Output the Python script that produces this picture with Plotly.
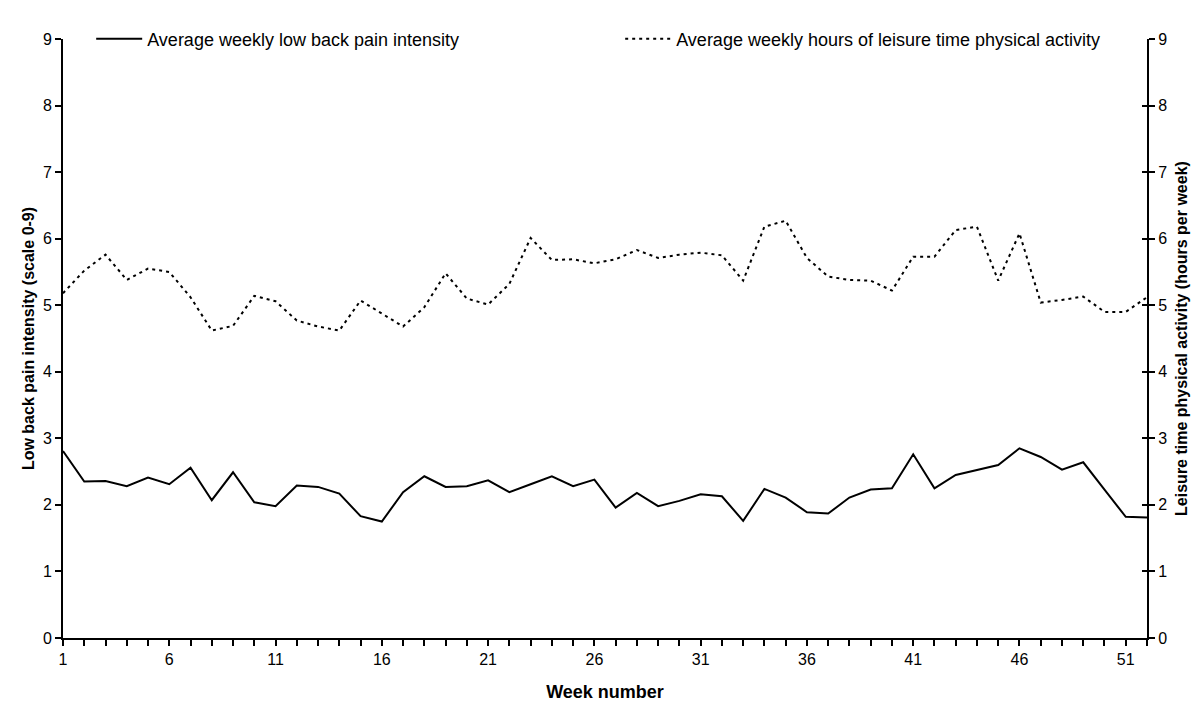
import plotly.graph_objects as go

weeks = list(range(1, 53))
pain = [2.81, 2.35, 2.36, 2.28, 2.41, 2.31, 2.56, 2.07, 2.49, 2.04,
        1.98, 2.29, 2.27, 2.17, 1.83, 1.75, 2.19, 2.43, 2.27, 2.28,
        2.37, 2.19, 2.31, 2.43, 2.28, 2.38, 1.96, 2.18, 1.98, 2.06,
        2.16, 2.13, 1.76, 2.24, 2.11, 1.89, 1.87, 2.11, 2.23, 2.25,
        2.76, 2.25, 2.45, 2.52, 2.60, 2.85, 2.72, 2.53, 2.64, 2.23,
        1.82, 1.81]
activity = [5.18, 5.52, 5.76, 5.38, 5.55, 5.50, 5.12, 4.62, 4.69, 5.14,
            5.06, 4.77, 4.68, 4.62, 5.07, 4.88, 4.68, 4.97, 5.48, 5.10,
            5.01, 5.32, 6.01, 5.68, 5.69, 5.63, 5.69, 5.83, 5.71, 5.76,
            5.79, 5.75, 5.37, 6.18, 6.27, 5.71, 5.43, 5.38, 5.37, 5.22,
            5.73, 5.73, 6.13, 6.18, 5.37, 6.08, 5.04, 5.08, 5.13, 4.90,
            4.90, 5.12]
x_ticks = [1, 6, 11, 16, 21, 26, 31, 36, 41, 46, 51]
y_ticks = list(range(0, 10))

FONT = "Arial, Liberation Sans, sans-serif"

fig = go.Figure()
fig.add_trace(go.Scatter(x=weeks, y=pain, mode="lines",
                         name="Average weekly low back pain intensity",
                         line=dict(color="black", width=2), yaxis="y"))
fig.add_trace(go.Scatter(x=weeks, y=activity, mode="lines",
                         name="Average weekly hours of leisure time physical activity",
                         line=dict(color="black", width=2, dash="3px,4px"), yaxis="y2"))
# empty helper trace so the inner right-axis ticks (cross ticks) get drawn
fig.add_trace(go.Scatter(x=[], y=[], yaxis="y3", showlegend=False, hoverinfo="skip"))

axis_common = dict(showgrid=False, zeroline=False, showline=True, linecolor="black",
                   linewidth=2, ticks="outside", ticklen=6, tickwidth=2, tickcolor="black",
                   tickfont=dict(family=FONT, size=16, color="black"))

fig.update_layout(
    width=1200, height=723,
    margin=dict(l=55, r=61, t=21, b=93),
    plot_bgcolor="white", paper_bgcolor="white",
    font=dict(family=FONT, size=16, color="black"),
    xaxis=dict(range=[1, 52], tickvals=x_ticks, ticktext=[str(v) for v in x_ticks],
               minor=dict(dtick=1, tick0=1, ticks="outside", ticklen=6, tickwidth=2, tickcolor="black"),
               title=dict(text="<b>Week number</b>", font=dict(family=FONT, size=18), standoff=18),
               **axis_common),
    yaxis=dict(range=[0, 9], tickvals=y_ticks,
               title=dict(text="<b>Low back pain intensity (scale 0-9)</b>", font=dict(family=FONT, size=16), standoff=4),
               **axis_common),
    yaxis2=dict(range=[0, 9], tickvals=y_ticks, overlaying="y", side="right",
                title=dict(text="<b>Leisure time physical activity (hours per week)</b>", font=dict(family=FONT, size=16), standoff=10),
                **axis_common),
    yaxis3=dict(range=[0, 9], tickvals=y_ticks, overlaying="y", side="right",
                showgrid=False, zeroline=False, showline=False, showticklabels=False,
                ticks="inside", ticklen=5, tickwidth=2, tickcolor="black"),
    legend=dict(orientation="h", x=0.026, y=1.0, xanchor="left", yanchor="middle",
                bgcolor="rgba(255,255,255,0)", font=dict(family=FONT, size=18),
                itemwidth=46, entrywidth=468, entrywidthmode="pixels", tracegroupgap=0),
    showlegend=True,
)

fig.write_html("out.html")
